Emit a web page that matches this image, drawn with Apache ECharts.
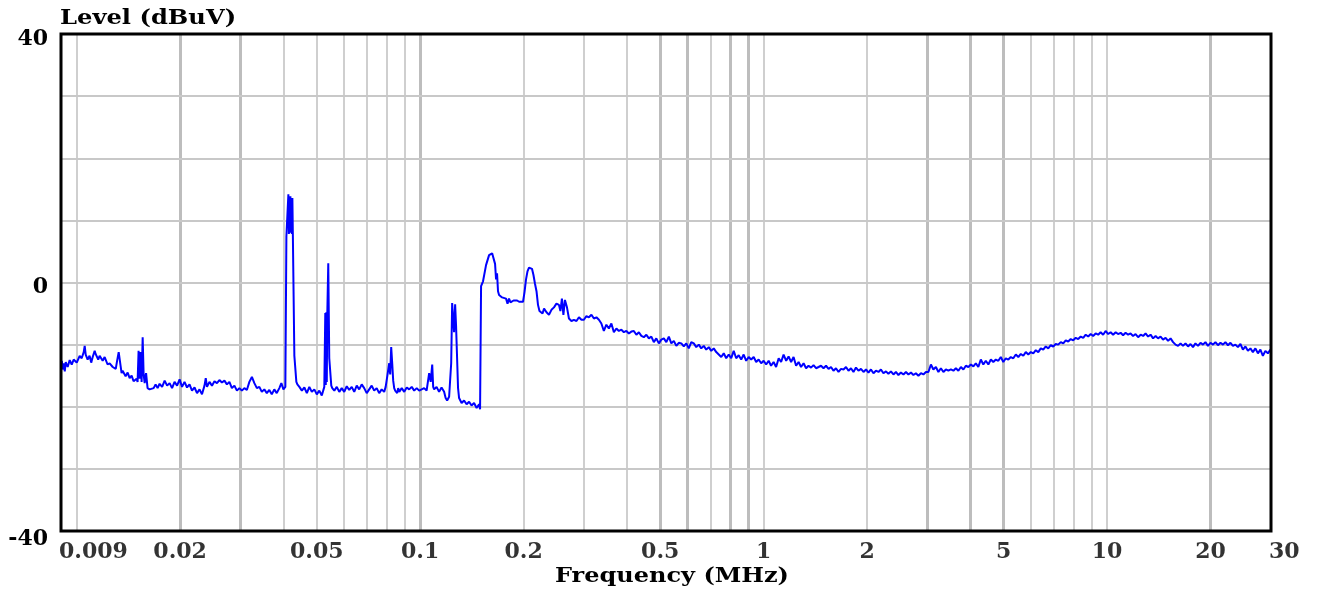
<!DOCTYPE html>
<html>
<head>
<meta charset="utf-8">
<script src="https://cdn.jsdelivr.net/npm/echarts@6/dist/echarts.min.js"></script>
<style>
html,body{margin:0;padding:0;background:#fff;}
#chart{width:1318px;height:591px;}
</style>
</head>
<body>
<div id="chart"></div>
<script>
// ---- Data (frequency in MHz, level in dBuV) ----
const freqMHz = [
0.00905,0.00911,0.00917,0.00923,0.00929,0.00941,0.00954,0.00967,0.0098,0.0100,
0.0102,0.01034,0.01048,0.01055,0.01062,0.01076,0.0109,0.01102,0.01113,0.01128,
0.01135,0.01143,0.01155,0.01166,0.0119,0.01206,0.0123,0.01247,0.01273,0.01299,
0.01312,0.01325,0.01342,0.01351,0.0136,0.01388,0.01407,0.01426,0.01445,0.01464,
0.01494,0.01504,0.01514,0.01524,0.01535,0.01545,0.01556,0.01566,0.01577,0.01592,
0.01608,0.0163,0.01652,0.01675,0.01697,0.0172,0.01743,0.01773,0.01803,0.01833,
0.01864,0.01895,0.01927,0.0196,0.01993,0.02026,0.0206,0.02095,0.0213,0.02166,
0.02203,0.0224,0.02278,0.02316,0.02355,0.02375,0.02395,0.02435,0.02476,0.02518,
0.0256,0.02603,0.02647,0.02692,0.02737,0.02783,0.0283,0.02878,0.02927,0.02976,
0.03026,0.03077,0.03129,0.03182,0.03236,0.0329,0.03346,0.03402,0.03459,0.03517,
0.03577,0.03637,0.03698,0.0376,0.03823,0.0389,0.03943,0.03997,0.0405,
0.04078,0.04105,0.04133,0.04147,0.0416,0.04175,0.04189,0.04203,0.04217,0.04231,
0.04245,0.04259,0.04273,0.04302,0.04331,0.0436,0.0439,0.04449,0.04524,0.046,
0.04678,0.04756,0.04836,0.04918,0.05,0.05085,0.0517,0.05258,
0.05293,0.05311,0.05329,0.05347,0.05365,0.054,0.05436,0.05473,0.0551,0.05547,
0.05623,0.05718,0.05813,0.0591,0.0601,0.06112,0.06215,0.0632,0.06427,0.06535,
0.06645,0.06757,0.06871,0.06987,0.07105,0.07225,0.07346,0.0747,0.07596,0.07724,
0.07855,0.07934,0.08015,0.08124,0.08179,0.08234,0.0829,0.08345,0.08401,0.08457,
0.08571,0.0863,0.08689,0.08836,0.08985,0.09137,0.0929,0.09447,0.09607,0.0977,
0.09933,0.101,0.1027,0.1044,0.1062,0.1073,0.1084,0.1091,0.1098,0.1116,
0.1135,0.1154,0.1174,0.1186,0.1198,0.1214,
0.1231,0.1239,0.1247,0.1255,0.1264,0.1272,0.1281,0.1289,0.1298,0.1320,
0.1342,0.1365,0.1388,0.1411,0.1435,0.146,0.1484,0.1494,0.1504,0.1514,
0.1524,0.1539,0.1555,0.1571,0.1587,0.1603,0.162,0.1636,0.1652,0.1663,
0.1674,0.1685,0.1697,0.1714,0.1732,0.1755,0.1778,0.1796,0.1814,0.1832,
0.1851,0.187,0.1889,0.1915,0.1941,0.1967,0.1993,0.2013,0.2033,0.2053,
0.2074,0.2095,0.2116,0.2137,0.2159,0.2181,0.2203,0.2225,0.2248,0.2271,
0.2294,0.2332,0.2371,0.2411,0.2452,0.2493,0.2535,0.256,0.2586,0.2612,
0.2639,0.2675,0.2711,0.2757,0.2803,0.2851,0.2899,0.2948,0.2997,0.3048,
0.3099,0.3152,0.3205,0.3259,0.3314,0.3369,0.3426,0.3484,0.3543,0.3603,
0.3664,0.3726,0.3789,0.3853,0.3918,0.3984,0.4051,0.4119,0.4189,0.426,
0.4332,0.4405,0.4479,0.4555,0.4632,0.471,0.4789,0.487,0.4952,0.5036,
0.5121,0.5208,0.5296,0.5385,0.5476,0.5568,0.5662,0.5758,0.5855,0.5953,
0.6053,0.6156,0.626,0.6366,0.6473,0.6582,0.6693,0.6806,0.6921,0.7037,
0.7156,0.7277,0.74,0.7524,0.7652,0.7781,0.7912,0.8045,0.8181,0.8319,
0.846,0.8602,0.8747,0.8895,0.9045,0.9197,0.9353,0.951,0.9671,0.9834,1.0,
1.017,1.034,1.051,1.069,1.087,1.106,1.124,1.143,1.163,1.182,
1.202,1.222,1.243,1.264,1.285,1.307,1.329,1.351,1.374,1.397,
1.421,1.445,1.469,1.494,1.519,1.545,1.571,1.597,1.624,1.652,
1.68,1.708,1.737,1.766,1.796,1.826,1.857,1.888,1.92,1.953,
1.986,2.019,2.053,2.088,2.123,2.159,2.195,2.232,2.27,2.308,
2.347,2.387,2.427,2.468,2.51,2.553,2.596,2.639,2.684,2.729,
2.775,2.822,2.87,2.918,2.968,3.018,3.069,3.12,3.173,3.227,
3.281,3.337,3.393,3.45,3.509,3.568,3.628,3.689,3.752,3.815,
3.879,3.945,4.011,4.079,4.147,4.217,4.288,4.361,4.434,4.51,
4.586,4.663,4.742,4.822,4.903,4.986,5.07,5.156,5.243,5.332,
5.422,5.513,5.606,5.701,5.797,5.895,5.995,6.096,6.199,6.303,
6.41,6.517,6.627,6.739,6.853,6.969,7.086,7.206,7.328,7.452,
7.578,7.705,7.835,7.967,8.102,8.239,8.378,8.519,8.663,8.809,
8.958,9.105,9.26,9.415,9.574,9.736,9.9,10.07,10.24,10.41,
10.59,10.76,10.95,11.13,11.32,11.51,11.7,11.9,12.1,12.31,
12.52,12.73,12.94,13.16,13.38,13.61,13.84,14.07,14.31,14.55,
14.8,15.05,15.3,15.56,15.82,16.09,16.36,16.63,16.91,17.2,
17.49,17.78,18.08,18.39,18.7,19.01,19.33,19.66,19.99,20.33,
20.67,21.02,21.38,21.74,22.1,22.48,22.86,23.24,23.63,24.03,
24.44,24.85,25.27,25.7,26.13,26.57,27.02,27.48,27.94,28.41,
28.89,29.38,29.88
];
const levelDbuV = [
-12.6,-14.0,-13.0,-14.3,-12.8,-13.6,-12.5,-13.2,-12.4,-12.9,
-11.8,-12.2,-11.2,-10.2,-11.6,-12.4,-11.8,-12.9,-12.0,-11.0,
-11.5,-11.3,-12.4,-11.8,-12.6,-12.0,-13.2,-13.0,-13.6,-13.9,
-12.5,-11.2,-11.3,-14.6,-14.2,-15.1,-14.5,-15.4,-15.0,-15.9,
-15.5,-16.0,-11.0,-15.5,-11.2,-16.0,-8.8,-14.8,-16.2,-14.6,
-17.0,-17.2,-17.2,-17.0,-16.4,-17.0,-16.3,-16.8,-15.8,-16.6,
-16.2,-17.0,-16.0,-16.6,-15.6,-16.8,-16.0,-16.9,-16.4,-17.4,
-16.9,-17.8,-17.2,-18.0,-16.6,-15.4,-16.8,-16.0,-16.6,-15.9,
-16.2,-15.7,-16.1,-15.8,-16.4,-16.0,-17.0,-16.6,-17.4,-17.0,
-17.4,-17.0,-17.3,-16.0,-15.2,-16.2,-17.0,-16.8,-17.6,-17.2,
-17.8,-17.3,-18.0,-17.2,-17.8,-17.0,-16.2,-17.2,-16.8,
7.4,7.6,14.2,7.8,13.8,8.0,13.9,8.2,13.5,7.8,
13.6,7.6,7.4,-11.8,-11.8,-16.0,-16.4,-16.8,-17.4,-16.9,
-17.8,-16.8,-17.6,-17.2,-18.0,-17.4,-18.2,-16.8,
-4.9,-16.5,-4.8,-16.0,-4.9,3.1,-12.2,-12.2,-16.6,-17.0,
-17.4,-16.8,-17.6,-17.0,-17.6,-16.7,-17.3,-16.8,-17.6,-16.6,
-17.2,-16.4,-17.0,-17.8,-17.2,-16.6,-17.4,-17.0,-17.8,-17.2,
-17.6,-16.8,-15.2,-13.0,-14.8,-10.4,-13.0,-15.8,-17.0,-17.4,
-17.8,-17.0,-17.6,-17.0,-17.6,-16.9,-17.2,-16.8,-17.4,-17.0,
-17.4,-17.2,-17.0,-17.4,-14.6,-16.0,-13.2,-16.8,-17.2,-16.8,
-17.6,-16.9,-17.6,-18.6,-19.0,-18.4,
-13.0,-3.3,-3.4,-8.0,-3.5,-7.0,-7.1,-17.0,-18.6,-19.4,
-19.0,-19.6,-19.2,-19.8,-19.4,-20.2,-19.6,-20.4,-0.6,-0.3,
0.2,0.4,2.8,3.0,4.4,4.6,4.7,4.6,3.0,0.5,
1.5,-1.4,-2.0,-1.8,-2.4,-2.2,-2.6,-3.4,-2.6,-3.2,
-2.9,-2.9,-3.0,-2.9,-3.1,-2.9,-3.1,-1.5,0.5,1.8,
2.4,2.5,2.2,1.2,-0.2,-1.4,-3.6,-4.6,-4.4,-5.0,
-4.2,-4.8,-5.2,-4.4,-4.0,-3.4,-3.6,-4.6,-2.6,-5.2,
-2.8,-4.0,-5.8,-6.2,-6.0,-6.2,-5.6,-6.0,-6.0,-5.4,
-5.6,-5.2,-5.8,-5.6,-6.0,-6.6,-7.8,-6.8,-7.4,-6.6,
-8.0,-7.4,-7.8,-7.6,-8.0,-7.8,-8.2,-7.9,-7.8,-8.4,
-8.0,-8.6,-8.8,-8.4,-9.0,-8.7,-9.6,-9.0,-9.8,-9.2,
-9.0,-9.6,-8.7,-9.8,-9.4,-10.2,-9.7,-9.8,-10.3,-9.8,
-10.6,-9.6,-9.8,-10.4,-10.0,-10.6,-10.2,-10.8,-10.4,-11.0,
-10.6,-11.2,-11.6,-12.0,-11.4,-12.2,-11.6,-12.2,-11.0,-12.2,
-11.7,-12.4,-11.6,-12.6,-12.0,-12.4,-12.0,-12.8,-12.4,-13.0,-12.6,
-13.2,-12.6,-13.4,-12.8,-13.6,-12.2,-12.8,-11.6,-12.6,-11.9,
-12.8,-12.0,-13.4,-12.8,-13.6,-13.0,-13.8,-13.4,-13.7,-13.3,
-13.8,-13.6,-13.4,-13.8,-13.4,-13.9,-13.6,-14.2,-13.8,-14.4,
-13.9,-14.0,-13.6,-14.2,-13.8,-14.4,-13.7,-14.2,-13.9,-14.4,
-14.0,-14.5,-14.0,-14.6,-14.2,-14.4,-14.0,-14.6,-14.3,-14.7,
-14.3,-14.8,-14.4,-14.9,-14.5,-14.8,-14.4,-14.8,-14.5,-14.9,
-14.6,-15.0,-14.6,-14.8,-14.4,-14.4,-13.2,-14.0,-13.6,-14.4,
-13.8,-14.4,-14.0,-14.2,-14.0,-14.2,-13.8,-14.2,-13.6,-14.0,
-13.4,-13.6,-13.2,-13.5,-13.0,-13.6,-12.4,-13.2,-12.6,-13.2,
-12.4,-12.8,-12.4,-12.6,-12.0,-12.8,-12.2,-12.4,-12.0,-12.2,
-11.6,-12.0,-11.5,-11.8,-11.2,-11.6,-11.2,-11.4,-10.9,-11.2,
-10.6,-10.8,-10.3,-10.6,-10.1,-10.3,-9.9,-10.0,-9.6,-9.8,
-9.3,-9.5,-9.1,-9.3,-8.9,-9.1,-8.7,-8.9,-8.4,-8.7,
-8.3,-8.6,-8.2,-8.4,-8.0,-8.4,-7.8,-8.3,-8.0,-8.4,
-8.0,-8.3,-8.1,-8.5,-8.1,-8.4,-8.2,-8.6,-8.3,-8.8,
-8.4,-8.6,-8.2,-8.7,-8.4,-9.0,-8.6,-9.0,-8.7,-9.2,
-8.9,-9.4,-9.0,-9.6,-10.0,-10.2,-9.8,-10.2,-9.8,-10.3,
-9.9,-10.4,-9.8,-10.2,-9.7,-10.0,-9.6,-10.2,-9.7,-10.0,
-9.6,-10.1,-9.7,-10.0,-9.6,-10.1,-9.7,-10.2,-10.0,-10.4,
-9.9,-10.8,-10.3,-11.0,-10.6,-11.2,-10.6,-11.4,-10.8,-11.8,
-11.0,-11.4,-10.8
];

// ---- Axes / ticks / titles ----
const xMin = 0.009, xMax = 30;
const yMin = -40, yMax = 40, yStep = 10;
const xTickValues = [0.009, 0.02, 0.05, 0.1, 0.2, 0.5, 1, 2, 5, 10, 20, 30];
const xTickLabels = ['0.009','0.02','0.05','0.1','0.2','0.5','1','2','5','10','20','30'];
const yTickLabels = [-40, 0, 40];
const xGridFreqs = [0.01,0.02,0.03,0.04,0.05,0.06,0.07,0.08,0.09,
                    0.1,0.2,0.3,0.4,0.5,0.6,0.7,0.8,0.9,
                    1,2,3,4,5,6,7,8,9,10,20];
const yGridLevels = [-30,-20,-10,0,10,20,30];
const yTitle = 'Level (dBuV)';
const xTitle = 'Frequency (MHz)';
// style: which vertical grid lines look heavier in the reference
const heavyGrid = [0.02,0.03,0.1,0.5,0.6,0.8,0.9,3,4,5,20];

const FONT = 'DejaVu Serif';
const chart = echarts.init(document.getElementById('chart'), null, {renderer: 'canvas'});

const traceData = freqMHz.map((f, i) => [f, levelDbuV[i]]);

const gridLineData = xGridFreqs.map(f => {
  const heavy = heavyGrid.indexOf(f) >= 0;
  return {xAxis: f, lineStyle: {color: heavy ? '#bdbdbd' : '#cfcfcf', width: heavy ? 3 : 2, type: 'solid'}};
}).concat(yGridLevels.map(v => ({yAxis: v, lineStyle: {color: '#c8c8c8', width: 2, type: 'solid'}})));

const tickLabelData = xTickValues.map((f, i) => {
  const item = {value: [f, yMin], name: xTickLabels[i]};
  if (i === 0) item.label = {align: 'left', offset: [-2, 0]};
  if (i === xTickValues.length - 1) item.label = {align: 'left', offset: [-2, 0]};
  return item;
});

const yLabelRich = {
  fontFamily: FONT, fontWeight: 'bold', fontSize: 22, color: '#000'
};

chart.setOption({
  animation: false,
  backgroundColor: '#ffffff',
  grid: {
    left: 61, right: 47, top: 34, bottom: 60,
    show: true, borderColor: '#000', borderWidth: 3,
    backgroundColor: 'transparent', z: 10
  },
  graphic: [
    {
      type: 'text', left: 60, top: 9, scaleX: 1.21, z: 20,
      style: {text: yTitle, fontFamily: FONT, fontWeight: 'bold', fontSize: 20, fill: '#000'}
    },
    {
      type: 'text', left: 555, top: 567, scaleX: 1.2, z: 20,
      style: {text: xTitle, fontFamily: FONT, fontWeight: 'bold', fontSize: 20, fill: '#000'}
    }
  ],
  xAxis: {
    type: 'log', logBase: 10, min: xMin, max: xMax,
    axisLine: {show: false}, axisTick: {show: false},
    axisLabel: {show: false}, splitLine: {show: false}
  },
  yAxis: {
    type: 'value', min: yMin, max: yMax, interval: yStep,
    axisLine: {show: false}, axisTick: {show: false},
    splitLine: {show: false},
    axisLabel: {
      margin: 13, fontFamily: FONT, fontWeight: 'bold', fontSize: 22, color: '#000',
      formatter: v => {
        if (yTickLabels.indexOf(v) < 0) return '';
        return (v === yMin ? '{lo|' : '{n|') + v + '}';
      },
      rich: {
        n: Object.assign({padding: [10, 0, 0, 0]}, yLabelRich),
        lo: Object.assign({padding: [16, 0, 0, 0]}, yLabelRich)
      }
    }
  },
  series: [
    {
      type: 'line', data: [], z: 1, silent: true,
      markLine: {
        silent: true, symbol: ['none', 'none'], z: 1, animation: false,
        label: {show: false}, emphasis: {disabled: true},
        data: gridLineData
      }
    },
    {
      type: 'line', data: traceData, z: 3, silent: true,
      showSymbol: false, symbol: 'none',
      lineStyle: {color: '#0000ff', width: 2},
      itemStyle: {color: '#0000ff'}
    },
    {
      type: 'scatter', data: tickLabelData, z: 4, silent: true,
      symbolSize: 0, clip: false,
      label: {
        show: true, position: 'bottom', distance: 10,
        fontFamily: FONT, fontWeight: 'bold', fontSize: 22, color: '#000',
        formatter: p => p.name
      }
    }
  ]
});
</script>
</body>
</html>
